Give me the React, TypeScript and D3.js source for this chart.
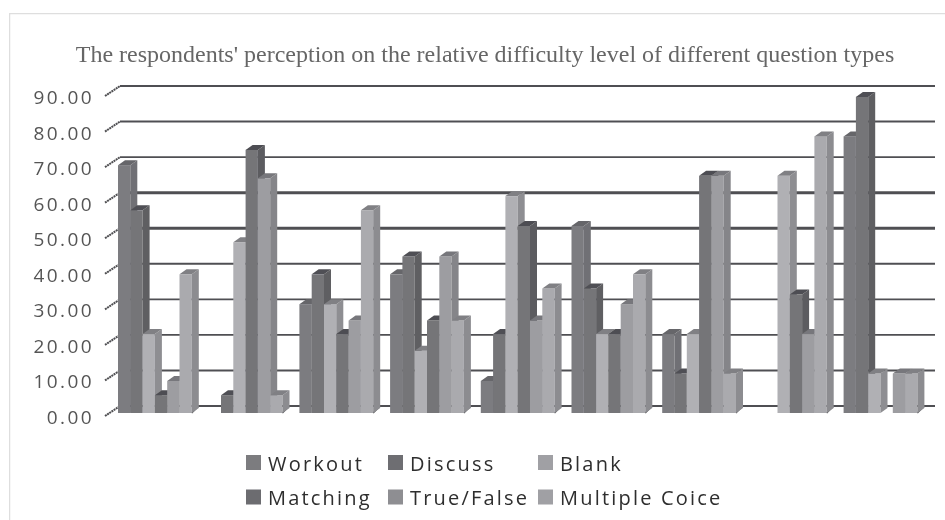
import * as d3 from "d3";

const width = 945;
const height = 520;

const categories = ["1", "2", "3", "4", "5", "6", "7", "8", "9"];
const workout = [69.7, 0, 30.6, 39, 9, 52.6, 22.2, 0, 77.8];
const discuss = [57, 5, 39, 44, 22.2, 35, 11.1, 0, 88.9];
const blank = [22.2, 48, 30.6, 17.5, 61, 22.2, 22.2, 66.7, 11.1];
const matching = [5, 74, 22.2, 26, 52.6, 22.2, 66.7, 33.3, 0];
const trueFalse = [9, 66, 26, 44, 26, 30.6, 66.7, 22.2, 11.1];
const multiple = [39, 5, 57, 26, 35, 39, 11.1, 77.8, 11.1];

const seriesNames = ["Workout", "Discuss", "Blank", "Matching", "True/False", "Multiple Coice"];
const seriesValues = [workout, discuss, blank, matching, trueFalse, multiple];
const frontColors = ["#7c7c80", "#747478", "#b0b0b4", "#747478", "#9d9da1", "#aaaaae"];
const sideColors = ["#707074", "#5e5e62", "#8e8e92", "#5c5c60", "#858589", "#8c8c90"];
const topColors = ["#66666a", "#505054", "#808084", "#4e4e52", "#77777b", "#808084"];
const legendColors = ["#7b7b7f", "#6e6e72", "#a0a0a4", "#6c6c70", "#8e8e92", "#a0a0a4"];

const yTicks = [0, 10, 20, 30, 40, 50, 60, 70, 80, 90];
const heavyLines = [50, 60];

const margin = { left: 118, bottom: 413, right: 935 };
const wall = { dx: 13, dy: 7 };
const depth = { dx: 7, dy: 5 };

const y = d3.scaleLinear().domain([0, 90]).range([margin.bottom, 93]);
const x = d3
  .scaleBand<string>()
  .domain(categories)
  .range([118, 118 + 90.7 * 9])
  .paddingInner(0)
  .paddingOuter(0);
const barWidth = 12.3;

const App = () => {
  return (
    <svg
      width={width}
      height={height}
      style={{ position: "absolute", left: 0, top: 0, background: "#fff" }}
    >
      <defs>
        <filter id="soft" x="0" y="0" width="100%" height="100%">
          <feGaussianBlur stdDeviation="0.45" />
        </filter>
      </defs>
      <g filter="url(#soft)">
        <rect x={9.5} y={13.5} width={width} height={height} fill="none" stroke="#dedede" strokeWidth="1.5" />
        <text
          x={485}
          y={62}
          textAnchor="middle"
          fontFamily="Liberation Serif"
          fontSize="24"
          fill="#666"
        >
          The respondents' perception on the relative difficulty level of different question types
        </text>

        {/* back wall lines and axis */}
        {yTicks.map((t) => (
          <g key={t}>
            <line
              x1={margin.left + 2}
              x2={margin.right}
              y1={y(t) - wall.dy}
              y2={y(t) - wall.dy}
              stroke="#505053"
              strokeWidth={heavyLines.includes(t) ? 3 : 1.9}
            />
            <line
              x1={margin.left - wall.dx}
              x2={margin.left + 2}
              y1={y(t) + 3}
              y2={y(t) - wall.dy}
              stroke="#505053"
              strokeWidth="2"
              strokeDasharray="2 0.6"
            />
            <text
              x={94}
              y={y(t) + 11}
              textAnchor="end"
              fontFamily="Open Sans"
              fontSize="19"
              letterSpacing="2.4"
              fill="#555"
            >
              {t.toFixed(2)}
            </text>
          </g>
        ))}

        {/* floor ticks between the groups */}
        {categories.map((c) => {
          const x0 = (x(c) as number) + x.bandwidth() - 17;
          return (
            <line
              key={c}
              x1={x0}
              x2={x0 + depth.dx}
              y1={margin.bottom}
              y2={margin.bottom - wall.dy}
              stroke="#555558"
              strokeWidth="1.4"
            />
          );
        })}

        {/* bars */}
        {categories.map((c, i) => (
          <g key={c}>
            {seriesValues.map((vals, s) => {
              const v = vals[i];
              if (!v) return null;
              const bx = (x(c) as number) + s * barWidth;
              const top = y(v);
              const r = bx + barWidth;
              return (
                <g key={s}>
                  <rect x={bx} y={top} width={barWidth} height={margin.bottom - top} fill={frontColors[s]} />
                  <path
                    d={`M${r},${top}L${r + depth.dx},${top - depth.dy}V${margin.bottom - depth.dy}L${r},${margin.bottom}Z`}
                    fill={sideColors[s]}
                  />
                  <path
                    d={`M${bx},${top}L${bx + depth.dx},${top - depth.dy}H${r + depth.dx}L${r},${top}Z`}
                    fill={topColors[s]}
                  />
                </g>
              );
            })}
          </g>
        ))}

        {/* legend */}
        {seriesNames.map((name, s) => {
          const col = s % 3;
          const row = Math.floor(s / 3);
          const lx = [246, 388, 538][col];
          const ly = 463 + row * 34.5;
          return (
            <g key={name}>
              <rect x={lx} y={ly - 8} width={15} height={15} fill={legendColors[s]} />
              <text
                x={lx + 22}
                y={ly + 7.5}
                fontFamily="Open Sans"
                fontSize="20"
                letterSpacing="2.2"
                fill="#2e2e2e"
              >
                {name}
              </text>
            </g>
          );
        })}
      </g>
    </svg>
  );
};

export default App;
